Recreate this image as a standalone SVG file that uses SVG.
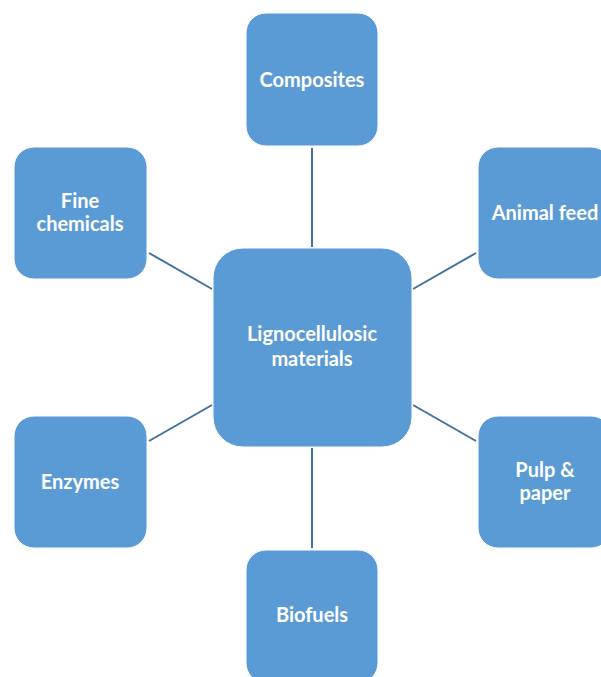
<svg xmlns="http://www.w3.org/2000/svg" width="601" height="677" viewBox="0 0 601 677">
<style>
.node{fill:#5b9bd5;stroke:#ffffff;stroke-width:1}
.lbl{font-family:Lato,"Open Sans","Liberation Sans",sans-serif;font-weight:700;font-size:20px;fill:#ffffff;text-anchor:middle}
.conn{stroke:#41719c;stroke-width:2;fill:none}
</style>
<rect width="601" height="677" fill="#ffffff"/>
<g id="connectors">
<line class="conn" x1="312" y1="148" x2="312" y2="247"/>
<line class="conn" x1="149" y1="253" x2="212" y2="289"/>
<line class="conn" x1="413" y1="289" x2="476" y2="253"/>
<line class="conn" x1="149" y1="441" x2="212" y2="405"/>
<line class="conn" x1="413" y1="405" x2="476" y2="441"/>
<line class="conn" x1="312" y1="448" x2="312" y2="548"/>
</g>
<g id="center">
<rect class="node" x="213" y="248" width="199" height="199" rx="30"/>
<text class="lbl" x="312" y="341">Lignocellulosic</text>
<text class="lbl" x="312" y="366">materials</text>
</g>
<g id="composites">
<rect class="node" x="246" y="13" width="132" height="133" rx="20"/>
<text class="lbl" x="312" y="87">Composites</text>
</g>
<g id="fine-chemicals">
<rect class="node" x="14" y="147" width="133" height="132" rx="20"/>
<text class="lbl" x="80" y="208">Fine</text>
<text class="lbl" x="80" y="231">chemicals</text>
</g>
<g id="animal-feed">
<rect class="node" x="478" y="147" width="133" height="132" rx="20"/>
<text class="lbl" x="545" y="220">Animal feed</text>
</g>
<g id="enzymes">
<rect class="node" x="14" y="416" width="133" height="132" rx="20"/>
<text class="lbl" x="80" y="489">Enzymes</text>
</g>
<g id="pulp-paper">
<rect class="node" x="478" y="416" width="133" height="132" rx="20"/>
<text class="lbl" x="545" y="477">Pulp &amp;</text>
<text class="lbl" x="545" y="500">paper</text>
</g>
<g id="biofuels">
<rect class="node" x="246" y="550" width="132" height="133" rx="20"/>
<text class="lbl" x="312" y="622">Biofuels</text>
</g>
</svg>
